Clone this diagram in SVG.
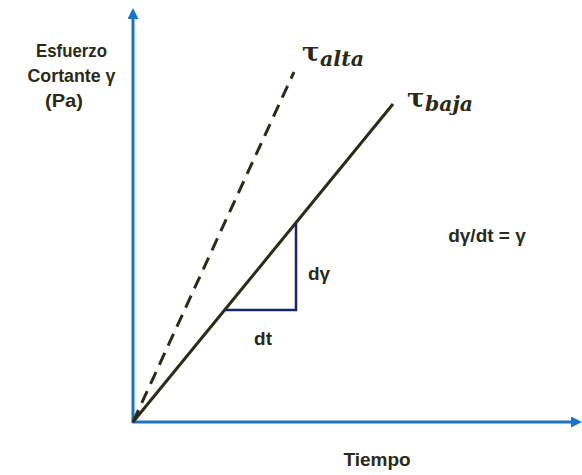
<svg xmlns="http://www.w3.org/2000/svg" width="582" height="475" viewBox="0 0 582 475">
<defs>
<marker id="ah" markerWidth="11" markerHeight="11" refX="7" refY="5.5" orient="auto" markerUnits="userSpaceOnUse" viewBox="0 0 11 11">
<path d="M0,0 L11,5.5 L0,11 Z" fill="#1a74c4"/>
</marker>
</defs>
<style>
.lbl{font-family:"Liberation Sans",Arial,sans-serif;font-weight:bold;fill:#2a2a18;font-size:19px;text-anchor:middle}
.tau{font-family:"DejaVu Serif","Liberation Serif",serif;font-weight:bold;fill:#2a2a18;font-size:26px}
.sub{font-family:"DejaVu Serif","Liberation Serif",serif;font-weight:bold;font-style:italic;fill:#2a2a18;font-size:21px}
.axis{stroke:#1a74c4;stroke-width:3;fill:none}
.line{stroke:#2c2b18;stroke-width:3;fill:none}
</style>
<rect width="582" height="475" fill="#ffffff"/>
<g id="connectors">
<line class="axis" x1="133" y1="423" x2="133" y2="12" marker-end="url(#ah)"/>
<line class="axis" x1="132" y1="422" x2="578" y2="422" marker-end="url(#ah)"/>
<line class="line" x1="133" y1="422" x2="393" y2="104"/>
<line class="line" x1="133" y1="422" x2="294" y2="72" stroke-dasharray="13,8"/>
<polyline points="225,310 296,310 296,223" fill="none" stroke="#15276a" stroke-width="2.5"/>
</g>
<g id="ylabel">
<text class="lbl" x="71.5" y="57" font-size="20" textLength="71" lengthAdjust="spacingAndGlyphs">Esfuerzo</text>
<text class="lbl" x="71.5" y="82" font-size="20" textLength="88" lengthAdjust="spacingAndGlyphs">Cortante γ</text>
<text class="lbl" x="64" y="107" font-size="20" textLength="38" lengthAdjust="spacingAndGlyphs">(Pa)</text>
</g>
<g id="tau-alta">
<text class="tau" x="302" y="61">τ</text>
<text class="sub" x="320" y="66" textLength="44" lengthAdjust="spacingAndGlyphs">alta</text>
</g>
<g id="tau-baja">
<text class="tau" x="407" y="107">τ</text>
<text class="sub" x="425" y="111" textLength="48" lengthAdjust="spacingAndGlyphs">baja</text>
</g>
<g id="dgamma"><text class="lbl" x="319" y="280" font-size="18">dγ</text></g>
<g id="dt"><text class="lbl" x="263" y="345">dt</text></g>
<g id="formula"><text class="lbl" x="487" y="242" font-size="18">dγ/dt = γ</text></g>
<g id="xlabel"><text class="lbl" x="377" y="466">Tiempo</text></g>
</svg>
